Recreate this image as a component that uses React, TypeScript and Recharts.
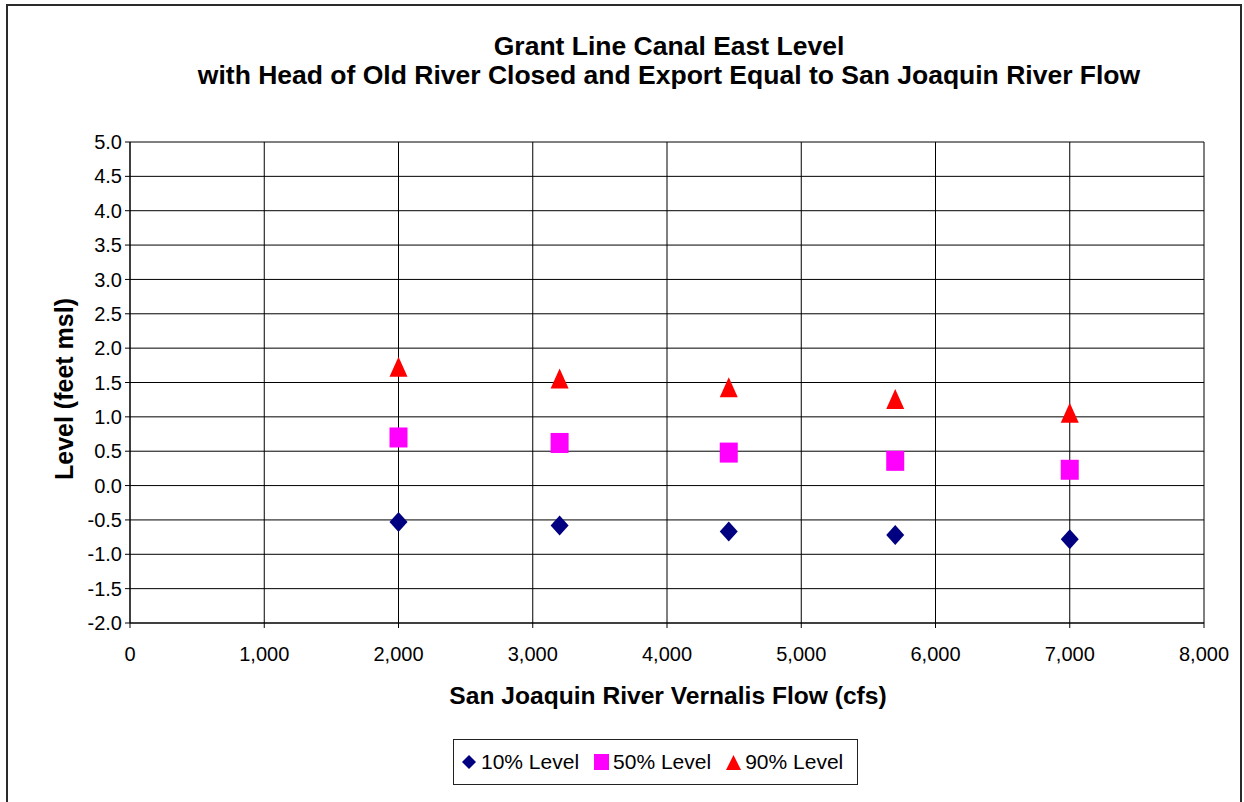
import React from "react"
import {
  CartesianGrid,
  Legend,
  Scatter,
  ScatterChart,
  XAxis,
  YAxis,
} from "recharts"

// flows (cfs) at Vernalis and the three level percentiles (feet msl)
const flows = [2000, 3200, 4460, 5700, 7000]
const level10 = [-0.53, -0.58, -0.67, -0.72, -0.78]
const level50 = [0.7, 0.62, 0.48, 0.36, 0.23]
const level90 = [1.73, 1.56, 1.43, 1.26, 1.06]

const xTicks = [0, 1000, 2000, 3000, 4000, 5000, 6000, 7000, 8000]
const yTicks = [-2, -1.5, -1, -0.5, 0, 0.5, 1, 1.5, 2, 2.5, 3, 3.5, 4, 4.5, 5]

const FONT = "Arial, 'Liberation Sans', sans-serif"
const NAVY = "#000080"
const MAGENTA = "#FF00FF"
const RED = "#FF0000"

const toPoints = (ys: number[]) => flows.map((x, i) => ({ x, y: ys[i] }))

const Diamond = ({ cx, cy }: any) => (
  <path d={`M${cx},${cy - 10} L${cx + 9},${cy} L${cx},${cy + 10} L${cx - 9},${cy} Z`} fill={NAVY} />
)
const Square = ({ cx, cy }: any) => (
  <rect x={cx - 9} y={cy - 10} width={18} height={20} fill={MAGENTA} />
)
const Triangle = ({ cx, cy }: any) => (
  <path d={`M${cx},${cy - 10} L${cx + 9},${cy + 10} L${cx - 9},${cy + 10} Z`} fill={RED} />
)

const legendItems = [
  { label: "10% Level", icon: <path d="M7,0 L14,7 L7,14 L0,7 Z" fill={NAVY} /> },
  { label: "50% Level", icon: <rect x={0} y={-1} width={15} height={16} fill={MAGENTA} /> },
  { label: "90% Level", icon: <path d="M7.5,0 L15,15 L0,15 Z" fill={RED} /> },
]

const LegendBox = () => (
  <div
    style={{
      border: "1.5px solid #222",
      width: 405,
      height: 46,
      boxSizing: "border-box",
      display: "flex",
      alignItems: "center",
      paddingLeft: 8,
      fontFamily: FONT,
      fontSize: 21,
      color: "#000",
      whiteSpace: "nowrap",
      overflow: "visible",
    }}
  >
    {legendItems.map((it, i) => (
      <span
        key={it.label}
        style={{ display: "flex", alignItems: "center", flexShrink: 0, marginRight: i < 2 ? 15 : 0 }}
      >
        <svg width={15} height={16} viewBox="0 -1 15 16" style={{ marginRight: 4, flexShrink: 0 }}>
          {it.icon}
        </svg>
        {it.label}
      </span>
    ))}
  </div>
)

export default function App() {
  return (
    <div style={{ position: "absolute", left: 0, top: 0, width: 1244, height: 802, background: "#fff", overflow: "hidden" }}>
      <div
        style={{
          position: "absolute",
          left: 6,
          top: 4,
          width: 1236,
          height: 820,
          border: "2px solid #2b2b2b",
          boxSizing: "border-box",
        }}
      />
      <ScatterChart
        width={1244}
        height={802}
        margin={{ top: 142, right: 40, bottom: 99, left: 70 }}
        style={{ position: "absolute", left: 0, top: 0 }}
      >
        <CartesianGrid stroke="#000" strokeWidth={1} />
        <XAxis
          type="number"
          dataKey="x"
          domain={[0, 8000]}
          ticks={xTicks}
          interval={0}
          height={80}
          tickSize={5}
          tickMargin={19}
          stroke="#000"
          tick={{ fill: "#000", fontSize: 20, fontFamily: FONT }}
          tickFormatter={(v: number) => v.toLocaleString("en-US")}
        />
        <YAxis
          type="number"
          dataKey="y"
          domain={[-2, 5]}
          ticks={yTicks}
          interval={0}
          width={60}
          tickSize={5}
          tickMargin={3}
          stroke="#000"
          tick={{ fill: "#000", fontSize: 20, fontFamily: FONT }}
          tickFormatter={(v: number) => v.toFixed(1)}
        />
        <Legend
          layout="horizontal"
          verticalAlign="middle"
          align="center"
          wrapperStyle={{ left: 453, top: 739, width: 405 }}
          content={() => <LegendBox />}
        />
        <Scatter name="10% Level" data={toPoints(level10)} shape={Diamond} isAnimationActive={false} />
        <Scatter name="50% Level" data={toPoints(level50)} shape={Square} isAnimationActive={false} />
        <Scatter name="90% Level" data={toPoints(level90)} shape={Triangle} isAnimationActive={false} />
      </ScatterChart>
      <svg
        width={1244}
        height={802}
        style={{ position: "absolute", left: 0, top: 0, pointerEvents: "none" }}
        fontFamily={FONT}
        fontWeight="bold"
        fill="#000"
      >
        <text x={669} y={55} textAnchor="middle" fontSize={26.5}>
          Grant Line Canal East Level
        </text>
        <text x={669} y={84} textAnchor="middle" fontSize={26.5}>
          with Head of Old River Closed and Export Equal to San Joaquin River Flow
        </text>
        <text x={668} y={704} textAnchor="middle" fontSize={24.6}>
          San Joaquin River Vernalis Flow (cfs)
        </text>
        <text x={73} y={389} textAnchor="middle" fontSize={25} transform="rotate(-90 73 389)">
          Level (feet msl)
        </text>
      </svg>
    </div>
  )
}
